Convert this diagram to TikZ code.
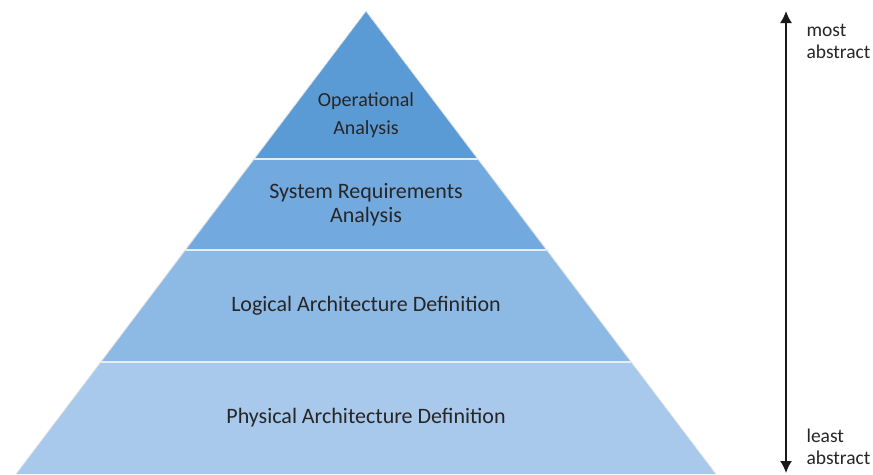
\documentclass[tikz,border=0pt]{standalone}
\usepackage{fontspec}
\setmainfont{Carlito}
\usetikzlibrary{arrows.meta}

\definecolor{levelOne}{HTML}{5B9BD5}
\definecolor{levelTwo}{HTML}{72A9DF}
\definecolor{levelThree}{HTML}{8DB9E5}
\definecolor{levelFour}{HTML}{A8C9EB}

\begin{document}
\begin{tikzpicture}[x=1pt,y=-1pt,
    layer text/.style={text=black!85, align=center, font=\fontsize{22}{24}\selectfont},
    side text/.style={text=black!85, align=left, anchor=west, font=\fontsize{19.5}{22}\selectfont},
    layer line/.style={white!80!levelTwo, line width=1.2pt}]
    \useasboundingbox (0,0) rectangle (873,474);

    % the four layers, top to bottom
    \fill[levelOne]   (366,11) -- (478,159) -- (254,159) -- cycle;
    \fill[levelTwo]   (254,159) -- (478,159) -- (547,250) -- (185,250) -- cycle;
    \fill[levelThree] (185,250) -- (547,250) -- (631,362) -- (101,362) -- cycle;
    \fill[levelFour]  (101,362) -- (631,362) -- (716,474) -- (16,474) -- cycle;

    \draw[layer line] (254,159) -- (478,159);
    \draw[layer line] (185,250) -- (547,250);
    \draw[layer line] (101,362) -- (631,362);
    \draw[white!80!gray, line width=0.8pt] (16,474) -- (366,11) -- (716,474);

    \node[layer text, font=\fontsize{20}{28}\selectfont] (oa) at (366,115) {Operational\\Analysis};
    \node[layer text] (sra) at (366,205) {System Requirements\\Analysis};
    \node[layer text] (lad) at (366,306) {Logical Architecture Definition};
    \node[layer text] (pad) at (366,418) {Physical Architecture Definition};

    % abstraction axis
    \coordinate (most) at (786,11);
    \coordinate (least) at (786,473);
    \draw[{Latex[length=12pt,width=12pt]}-{Latex[length=12pt,width=12pt]}, line width=1.6pt, black!90] (most) -- (least);

    \node[side text] (mostlbl) at (803,41) {most\\abstract};
    \node[side text] (leastlbl) at (803,447) {least\\abstract};
\end{tikzpicture}
\end{document}
